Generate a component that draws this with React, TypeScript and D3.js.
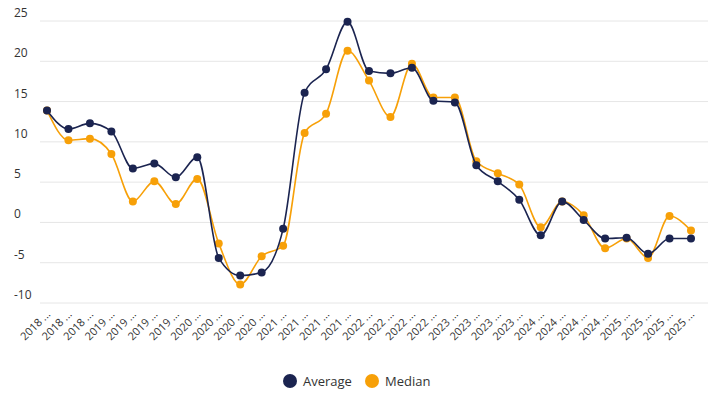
import React from 'react';
import * as d3 from 'd3';

const years = ['2018', '2018', '2018', '2019', '2019', '2019', '2019', '2020', '2020', '2020', '2020',
  '2021', '2021', '2021', '2021', '2022', '2022', '2022', '2022', '2023', '2023', '2023', '2023',
  '2024', '2024', '2024', '2024', '2025', '2025', '2025', '2025'];
const average = [13.9, 11.6, 12.3, 11.3, 6.7, 7.3, 5.6, 8.1, -4.4, -6.6, -6.2, -0.8, 16.1, 19.0, 24.9,
  18.8, 18.5, 19.2, 15.1, 14.9, 7.1, 5.1, 2.8, -1.6, 2.6, 0.3, -2.0, -1.9, -3.9, -2.0, -2.0];
const median = [13.9, 10.2, 10.4, 8.5, 2.6, 5.1, 2.3, 5.4, -2.6, -7.7, -4.2, -2.9, 11.1, 13.5, 21.3,
  17.6, 13.1, 19.7, 15.5, 15.5, 7.6, 6.1, 4.7, -0.6, 2.6, 0.9, -3.2, -2.0, -4.4, 0.8, -1.0];
const yTicks = [-10, -5, 0, 5, 10, 15, 20, 25];

const NAVY = '#1b2450';
const ORANGE = '#f7a008';
const FONT = '"Open Sans", sans-serif';

const W = 720;
const H = 400;
const M = { left: 47, right: 29, top: 21, bottom: 97 };

export default function App() {
  const x = d3.scaleLinear().domain([0, years.length - 1]).range([M.left, W - M.right]);
  const y = d3.scaleLinear().domain([-10, 25]).range([H - M.bottom, M.top]);
  const line = d3.line<number>().x((_, i) => x(i)).y((d) => y(d)).curve(d3.curveMonotoneX);

  const series = [
    { name: 'Median', values: median, color: ORANGE },
    { name: 'Average', values: average, color: NAVY },
  ];

  return (
    <svg width={W} height={H} style={{ position: 'absolute', left: 0, top: 0, fontFamily: FONT }}>
      {yTicks.map((t) => (
        <g key={t}>
          <line x1={40} x2={W - 12} y1={y(t)} y2={y(t)} stroke="#e6e6e6" />
          <text x={14} y={y(t) - 4} fontSize={12} fill="#333">{t}</text>
        </g>
      ))}
      {years.map((yr, i) => (
        <text key={i} transform={`translate(${x(i) + 4},${H - M.bottom + 12}) rotate(-45)`}
          textAnchor="end" fontSize={11} fill="#333">{yr} ...</text>
      ))}
      {[...series].map((s) => (
        <g key={s.name}>
          <path d={line(s.values) ?? ''} fill="none" stroke={s.color} strokeWidth={1.6} />
          {s.values.map((v, i) => (
            <circle key={i} cx={x(i)} cy={y(v)} r={4} fill={s.color} />
          ))}
        </g>
      ))}
      <g transform={`translate(${W / 2 - 70},381)`}>
        <circle cx={0} cy={0} r={7} fill={NAVY} />
        <text x={13} y={5} fontSize={13} fill="#333">Average</text>
        <circle cx={82} cy={0} r={7} fill={ORANGE} />
        <text x={95} y={5} fontSize={13} fill="#333">Median</text>
      </g>
    </svg>
  );
}
